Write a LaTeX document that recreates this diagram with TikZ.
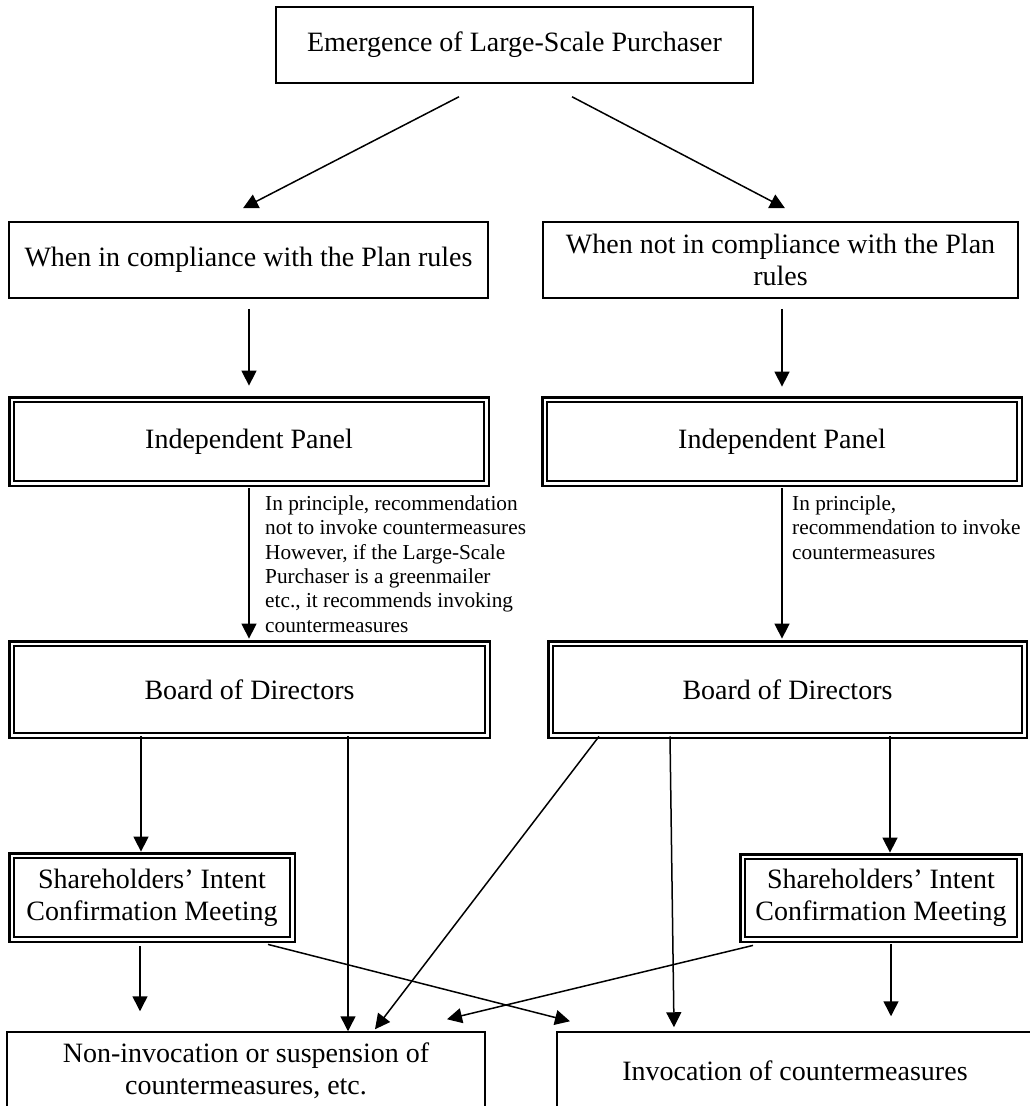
\documentclass[tikz,border=0pt]{standalone}
\usepackage{fontspec}
\setmainfont{Liberation Serif}
\usetikzlibrary{arrows.meta}
\begin{document}
\begin{tikzpicture}[x=1pt,y=-1pt,
  box/.style={draw,line width=1.5pt,rectangle,inner sep=0pt,align=center,font=\fontsize{28}{32.2}\selectfont},
  dbox/.style={box,double,double distance=2.5pt,line width=2.3pt},
  arr/.style={-{Triangle[length=15pt,width=15pt]},line width=1.5pt},
  lab/.style={inner sep=0pt,align=left,font=\fontsize{21.3}{24.4}\selectfont}]
\useasboundingbox (0,0) rectangle (1030,1106);
\clip (0,0) rectangle (1030,1106);

\node[box,minimum width=477pt,minimum height=76pt] (T) at (514.5,45) {Emergence of Large-Scale Purchaser};
\node[box,minimum width=479pt,minimum height=76pt] (A) at (248.5,260) {When in compliance with the Plan rules};
\node[box,minimum width=475pt,minimum height=76pt] (B) at (780.5,260) {When not in compliance with the Plan\\rules};
\node[dbox,minimum width=474.5pt,minimum height=83.5pt] (PA) at (249,441.5) {Independent Panel};
\node[dbox,minimum width=474.5pt,minimum height=83.5pt] (PB) at (782,441.5) {Independent Panel};
\node[dbox,minimum width=475.5pt,minimum height=91.5pt] (BA) at (249.5,689.5) {Board of Directors};
\node[dbox,minimum width=473.5pt,minimum height=91.5pt] (BB) at (787.5,689.5) {Board of Directors};
\node[dbox,minimum width=280.5pt,minimum height=83.5pt] (SA) at (152,897.5) {Shareholders’ Intent\\Confirmation Meeting};
\node[dbox,minimum width=276.5pt,minimum height=82.5pt] (SB) at (881,898) {Shareholders’ Intent\\Confirmation Meeting};
\node[box,minimum width=478pt,minimum height=78pt] (C) at (246,1071) {Non-invocation or suspension of\\countermeasures, etc.};
\node[box,minimum width=476pt,minimum height=78pt] (D) at (795,1071) {Invocation of countermeasures};

\node[lab,anchor=west] (LA) at (265,564) {In principle, recommendation\\not to invoke countermeasures\\However, if the Large-Scale\\Purchaser is a greenmailer\\etc., it recommends invoking\\countermeasures};
\node[lab,anchor=west] (LB) at (792,527.5) {In principle,\\recommendation to invoke\\countermeasures};

\draw[arr] ([xshift=-55.5pt,yshift=-13pt]T.south) -- ([xshift=-5.5pt,yshift=13pt]A.north);
\draw[arr] ([xshift=57.5pt,yshift=-13pt]T.south) -- ([xshift=4.5pt,yshift=13pt]B.north);
\draw[arr] ([xshift=0.5pt,yshift=-10pt]A.south) -- ([yshift=13pt]PA.north);
\draw[arr] ([xshift=1.5pt,yshift=-10pt]B.south) -- ([yshift=12pt]PB.north);
\draw[arr] ([yshift=-4pt]PA.south) -- ([xshift=-0.5pt,yshift=4pt]BA.north);
\draw[arr] ([yshift=-4pt]PB.south) -- ([xshift=-5.5pt,yshift=4pt]BB.north);
\draw[arr] ([xshift=-108.5pt]BA.south) -- ([xshift=-11pt,yshift=3pt]SA.north);
\draw[arr] ([xshift=98.5pt]BA.south) -- ([xshift=102pt]C.north);
\draw[arr] ([xshift=-188.5pt]BB.south) -- ([xshift=129pt,yshift=2pt]C.north);
\draw[arr] ([xshift=-117.5pt]BB.south) -- ([xshift=-121pt,yshift=4pt]D.north);
\draw[arr] ([xshift=102.5pt]BB.south) -- ([xshift=9pt,yshift=3pt]SB.north);
\draw[arr] ([xshift=-12pt,yshift=-6pt]SA.south) -- ([xshift=-106pt,yshift=20pt]C.north);
\draw[arr] ([xshift=116pt,yshift=-4pt]SA.south) -- ([xshift=-225pt,yshift=10pt]D.north);
\draw[arr] ([xshift=-128pt,yshift=-5pt]SB.south) -- ([xshift=201pt,yshift=12pt]C.north);
\draw[arr] ([xshift=10pt,yshift=-4pt]SB.south) -- ([xshift=96pt,yshift=15pt]D.north);
\end{tikzpicture}
\end{document}
